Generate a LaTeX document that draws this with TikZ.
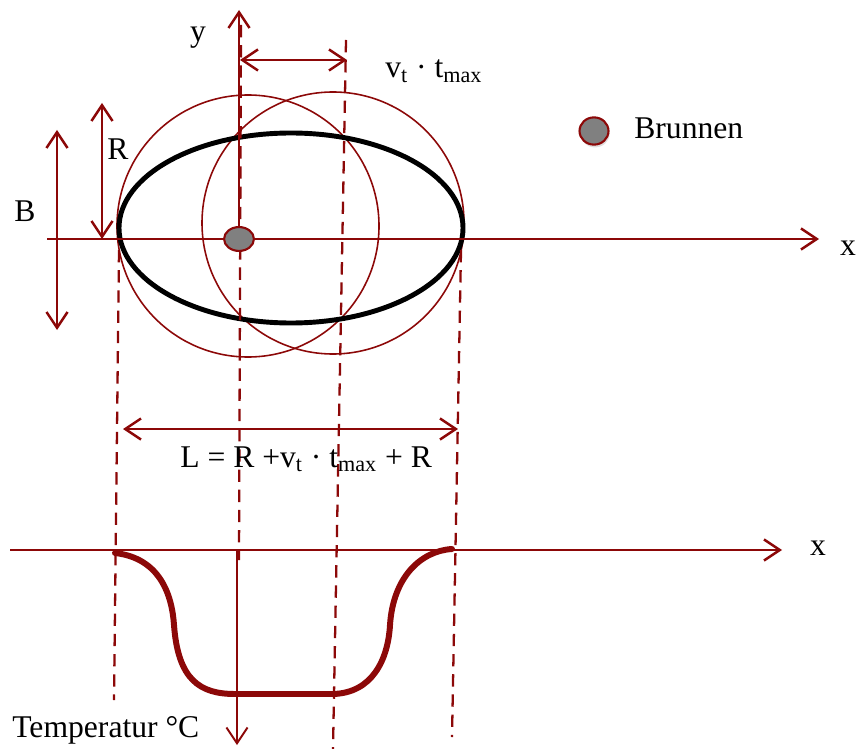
\documentclass[tikz,border=0pt]{standalone}
\usepackage{fontspec}
\setmainfont{Liberation Serif}
\usetikzlibrary{arrows.meta,shapes.geometric,shadows}
\definecolor{brick}{RGB}{140,8,8}
\definecolor{wellgray}{RGB}{128,128,128}
\begin{document}
\begin{tikzpicture}[
  x=0.02cm, y=-0.02cm,
  axis/.style={draw=brick, line width=1.4pt},
  ring/.style={draw=brick, line width=0.9pt},
  guide/.style={draw=brick, line width=1.3pt, dash pattern=on 7pt off 4.5pt},
  well/.style={ellipse, draw=brick, line width=1.2pt, fill=wellgray, inner sep=0pt},
  lbl/.style={font=\fontsize{18}{21}\selectfont, inner sep=0pt},
  >={Straight Barb[length=9pt,width=12pt]}
]
\useasboundingbox (0,0) rectangle (857,749);
\draw[ring] (248,226) circle [radius=131];
\draw[ring] (333,223) circle [radius=131];
\draw[black, line width=2.8pt] (291,228) ellipse [x radius=172, y radius=95];
\coordinate (g1a) at (119,250); \coordinate (g1b) at (114,700);
\coordinate (g2a) at (241,25);  \coordinate (g2b) at (239,560);
\coordinate (g3a) at (346,40);  \coordinate (g3b) at (333,749);
\coordinate (g4a) at (461,250); \coordinate (g4b) at (452,737);
\draw[guide] (g1a) -- (g1b);
\draw[guide] (g2a) -- (g2b);
\draw[guide] (g3a) -- (g3b);
\draw[guide] (g4a) -- (g4b);
\coordinate (xa) at (47,239);  \coordinate (xb) at (819,239);
\coordinate (ytop) at (239,10);
\coordinate (xla) at (10,550); \coordinate (xlb) at (782,550);
\coordinate (ta) at (237,551); \coordinate (tb) at (237,745);
\draw[axis,->] (xa) -- (xb);
\draw[axis,->] (xla) -- (xlb);
\draw[axis,->, line width=1.1pt] (ta) -- (tb);
\node[well, minimum width=17pt, minimum height=13.6pt] (well) at (239,239) {};
\draw[axis,->] (well.north) -- (ytop);
\node[well, minimum width=16.5pt, minimum height=15.5pt,
  drop shadow={opacity=0.25, shadow xshift=0.6pt, shadow yshift=-1.6pt}] (key) at (594,131) {};
\node[lbl, anchor=west] (brunnen) at (634,128) {Brunnen};
\coordinate (ra) at (102,103); \coordinate (rb) at (102,239);
\coordinate (ba) at (57,130);  \coordinate (bb) at (57,330);
\coordinate (va) at (240,60);  \coordinate (vb) at (347,60);
\coordinate (la) at (123,429); \coordinate (lb) at (458,429);
\draw[axis,<->] (ra) -- (rb);
\draw[axis,<->] (ba) -- (bb);
\draw[axis,<->] (va) -- (vb);
\draw[axis,<->] (la) -- (lb);
\node[lbl] (ylab) at (198,38) {y};
\node[lbl] (xlab) at (848,248) {x};
\node[lbl] (xlab2) at (818,548) {x};
\node[lbl] (rlab) at (118,149) {R};
\node[lbl] (blab) at (25,211) {B};
\node[lbl, anchor=base west] (vtlab) at (385,78) {v\textsubscript{t} · t\textsubscript{max}};
\node[lbl, anchor=base west] (llab) at (180,467) {L = R +v\textsubscript{t} · t\textsubscript{max} + R};
\node[lbl, anchor=base west] (tlab) at (12,737) {Temperatur °C};
\draw[brick, line width=3.4pt, line cap=round]
  (115,553) .. controls (160,558) and (172,595) .. (174,625)
  .. controls (178,680) and (200,694) .. (235,694) -- (333,694)
  .. controls (372,693) and (388,660) .. (390,625)
  .. controls (393,578) and (420,551) .. (452,549);
\end{tikzpicture}
\end{document}
